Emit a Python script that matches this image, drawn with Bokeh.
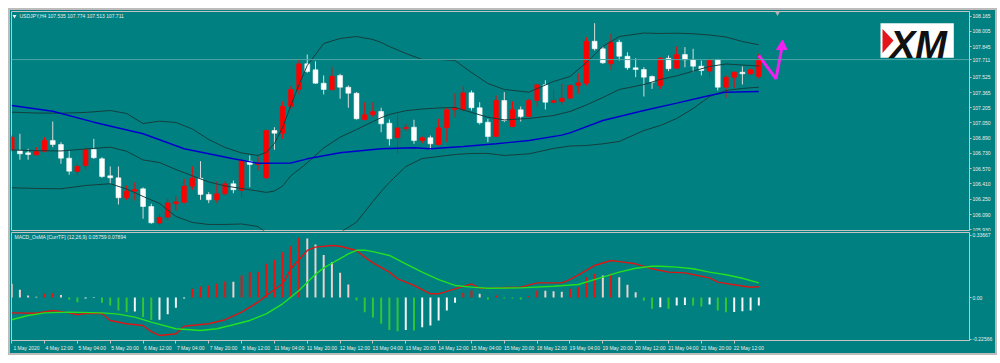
from bokeh.plotting import figure
from bokeh.layouts import column
from bokeh.models import Range1d, FixedTicker, NumeralTickFormatter, Span, Label, ColumnDataSource
from bokeh.embed import file_html
from bokeh.resources import INLINE
from bokeh.core.properties import value

# ---------------- data ----------------
symbol_title = "USDJPY,H4 107.535 107.774 107.513 107.711"
macd_title = "MACD_OsMA [CurrTF] (12,26,9) 0.05759 0.07894"
last_price = 107.711
last_price_label = "107.711"

opens = [106.767, 106.760, 106.736, 106.715, 106.753, 106.865, 106.823, 106.680, 106.540, 106.600,
         106.770, 106.673, 106.495, 106.474, 106.265, 106.334, 106.359, 106.174, 106.000, 106.062,
         106.203, 106.219, 106.387, 106.470, 106.300, 106.244, 106.307, 106.412, 106.342, 106.648,
         106.614, 106.474, 106.969, 106.941, 107.220, 107.398, 107.667, 107.604, 107.464, 107.395,
         107.545, 107.422, 107.359, 107.084, 107.133, 107.168, 107.046, 106.893, 106.987, 107.004,
         106.865, 106.893, 106.823, 106.997, 107.186, 107.186, 107.364, 107.207, 107.056, 106.906,
         107.283, 107.011, 107.186, 107.116, 107.283, 107.447, 107.262, 107.273, 107.307, 107.440,
         107.464, 107.903, 107.824, 107.667, 107.893, 107.746, 107.625, 107.607, 107.534, 107.440,
         107.725, 107.621, 107.764, 107.709, 107.642, 107.590, 107.712, 107.422, 107.527, 107.579,
         107.562, 107.535]
highs = [106.917, 106.935, 106.778, 106.795, 106.899, 107.063, 106.847, 106.760, 106.621, 106.795,
         106.882, 106.690, 106.593, 106.593, 106.394, 106.428, 106.373, 106.203, 106.104, 106.255,
         106.279, 106.464, 106.593, 106.648, 106.324, 106.439, 106.439, 106.446, 106.680, 106.708,
         106.697, 106.977, 107.004, 107.273, 107.433, 107.719, 107.764, 107.694, 107.545, 107.631,
         107.562, 107.440, 107.370, 107.265, 107.265, 107.207, 107.084, 107.137, 107.039, 107.081,
         106.906, 106.917, 107.092, 107.213, 107.359, 107.433, 107.388, 107.265, 107.092, 107.335,
         107.370, 107.273, 107.220, 107.301, 107.458, 107.495, 107.398, 107.458, 107.450, 107.569,
         107.945, 108.092, 107.848, 107.981, 107.918, 107.788, 107.725, 107.631, 107.545, 107.736,
         107.754, 107.848, 107.841, 107.824, 107.701, 107.736, 107.719, 107.545, 107.586, 107.639,
         107.615, 107.774]
lows = [106.750, 106.663, 106.663, 106.708, 106.742, 106.795, 106.621, 106.506, 106.499, 106.558,
        106.673, 106.474, 106.412, 106.195, 106.244, 106.237, 106.046, 105.993, 105.975, 106.028,
        106.132, 106.203, 106.349, 106.244, 106.209, 106.209, 106.289, 106.313, 106.272, 106.376,
        106.551, 106.464, 106.767, 106.882, 107.196, 107.346, 107.573, 107.458, 107.346, 107.388,
        107.301, 107.207, 107.084, 107.074, 107.108, 106.951, 106.812, 106.732, 106.959, 106.830,
        106.836, 106.767, 106.812, 106.847, 107.108, 107.171, 107.178, 107.032, 106.847, 106.899,
        107.056, 107.004, 107.063, 107.108, 107.220, 107.189, 107.249, 107.238, 107.301, 107.353,
        107.440, 107.806, 107.667, 107.604, 107.701, 107.604, 107.527, 107.325, 107.405, 107.405,
        107.590, 107.615, 107.631, 107.579, 107.545, 107.527, 107.388, 107.311, 107.416, 107.450,
        107.555, 107.513]
closes = [106.899, 106.725, 106.718, 106.750, 106.865, 106.823, 106.680, 106.544, 106.596, 106.770,
          106.684, 106.488, 106.474, 106.265, 106.334, 106.352, 106.174, 106.004, 106.062, 106.213,
          106.223, 106.387, 106.470, 106.300, 106.244, 106.307, 106.412, 106.349, 106.655, 106.614,
          106.631, 106.969, 106.941, 107.220, 107.398, 107.667, 107.586, 107.464, 107.398, 107.537,
          107.422, 107.359, 107.092, 107.133, 107.168, 107.039, 106.882, 106.997, 107.004, 106.865,
          106.893, 106.830, 106.997, 107.186, 107.207, 107.364, 107.207, 107.050, 106.906, 107.283,
          107.074, 107.186, 107.116, 107.283, 107.447, 107.265, 107.283, 107.307, 107.440, 107.468,
          107.903, 107.824, 107.677, 107.893, 107.746, 107.625, 107.607, 107.527, 107.474, 107.725,
          107.615, 107.764, 107.709, 107.642, 107.597, 107.712, 107.422, 107.527, 107.579, 107.562,
          107.604, 107.711]
bar_index = list(range(len(opens)))

# Bollinger bands (sampled at bar indices)
bb_idx = [0, 3, 6, 9, 12, 14, 16, 18, 20, 22, 24, 26, 28, 30, 31, 32, 33, 34, 35, 36, 38, 40, 42, 44, 45,
          46, 48, 50, 52, 54, 56, 58, 60, 63, 66, 68, 70, 72, 74, 77, 79, 81, 83, 85, 87, 89, 91]
bb_upper = [107.161, 107.152, 107.150, 107.158, 107.178, 107.147, 107.042, 107.067, 107.053, 106.985,
            106.875, 106.791, 106.734, 106.708, 106.739, 106.833, 107.001, 107.231, 107.450, 107.649,
            107.879, 107.932, 107.952, 107.921, 107.890, 107.848, 107.775, 107.712, 107.712, 107.701,
            107.576, 107.461, 107.398, 107.370, 107.482, 107.534, 107.680, 107.848, 107.952, 107.989,
            107.984, 107.987, 107.981, 107.968, 107.947, 107.900, 107.866]
bb_middle = [106.765, 106.758, 106.755, 106.776, 106.795, 106.752, 106.661, 106.634, 106.561, 106.495,
             106.431, 106.389, 106.363, 106.336, 106.321, 106.336, 106.389, 106.496, 106.562, 106.632,
             106.786, 106.899, 106.979, 107.063, 107.103, 107.137, 107.176, 107.194, 107.205, 107.210,
             107.158, 107.108, 107.080, 107.095, 107.126, 107.168, 107.236, 107.314, 107.398, 107.450,
             107.503, 107.541, 107.590, 107.639, 107.665, 107.654, 107.644]
bb_lower = [106.370, 106.363, 106.359, 106.394, 106.412, 106.357, 106.279, 106.206, 106.070, 106.007,
            105.986, 105.986, 105.991, 105.965, 105.902, 105.840, 105.777, 105.756, 105.672, 105.651,
            105.693, 105.902, 106.011, 106.227, 106.331, 106.425, 106.593, 106.676, 106.697, 106.718,
            106.729, 106.729, 106.708, 106.725, 106.781, 106.807, 106.812, 106.830, 106.854, 106.969,
            107.021, 107.095, 107.199, 107.325, 107.388, 107.409, 107.422]

# blue moving average
ma_idx = [0, 5, 10, 16, 21, 27, 30, 34, 36, 40, 45, 49, 51, 55, 59, 63, 67, 68, 72, 77, 81, 85, 87, 91]
ma_vals = [107.231, 107.171, 107.056, 106.935, 106.778, 106.673, 106.627, 106.629, 106.673, 106.736,
           106.778, 106.788, 106.778, 106.802, 106.830, 106.865, 106.921, 106.945, 107.074, 107.178,
           107.255, 107.335, 107.370, 107.377]

# MACD OsMA histogram
hist_vals = [0.074, 0.042, 0.011, 0.004, 0.020, 0.023, 0.014, -0.011, -0.025, -0.005,
             -0.003, -0.029, -0.043, -0.070, -0.080, -0.076, -0.105, -0.122, -0.120, -0.090,
             -0.055, -0.006, 0.047, 0.059, 0.065, 0.074, 0.086, 0.085, 0.119, 0.137,
             0.139, 0.182, 0.204, 0.245, 0.277, 0.322, 0.318, 0.286, 0.230, 0.191,
             0.133, 0.070, -0.016, -0.079, -0.108, -0.142, -0.175, -0.182, -0.175, -0.178,
             -0.160, -0.151, -0.124, -0.070, -0.029, 0.025, 0.038, 0.020, -0.011, 0.011,
             -0.005, -0.006, -0.011, 0.007, 0.038, 0.036, 0.034, 0.031, 0.047, 0.056,
             0.110, 0.128, 0.119, 0.128, 0.110, 0.069, 0.029, -0.018, -0.061, -0.052,
             -0.061, -0.043, -0.040, -0.043, -0.049, -0.038, -0.070, -0.079, -0.078, -0.074,
             -0.070, -0.043]
hist_kind = ("pppprrpggw" "wggggwggww" "wwrrrrrprr" "rrrrrrpppp" "ppggggggwg"
             "wwwwwrrpgr" "gggrrppprr" "rrprpppggw" "gwwggwggww" "ww")

macd_idx = [0, 3, 5, 7, 8, 9, 11, 12, 14, 16, 17, 18, 20, 21, 23, 24, 26, 28, 30, 31, 33, 34, 36, 37,
            39, 40, 42, 43, 44, 46, 47, 49, 51, 52, 54, 56, 57, 59, 62, 64, 67, 68, 70, 71, 73, 74, 76,
            78, 80, 82, 84, 85, 86, 88, 90, 91]
macd_vals = [-0.083, -0.085, -0.070, -0.083, -0.093, -0.085, -0.086, -0.124, -0.142, -0.151,
             -0.184, -0.205, -0.196, -0.155, -0.146, -0.142, -0.120, -0.079, -0.025, 0.011,
             0.074, 0.155, 0.254, 0.272, 0.281, 0.277, 0.254, 0.218, 0.187, 0.137,
             0.101, 0.065, 0.020, 0.020, 0.047, 0.074, 0.050, 0.052, 0.056, 0.079,
             0.079, 0.097, 0.146, 0.173, 0.200, 0.194, 0.182, 0.155, 0.137, 0.133,
             0.115, 0.106, 0.083, 0.069, 0.055, 0.058]
sig_idx = [0, 2, 4, 7, 11, 13, 15, 17, 20, 23, 25, 27, 29, 31, 33, 35, 37, 38, 39, 40, 41, 42, 43, 44,
           46, 48, 50, 52, 54, 56, 58, 62, 66, 69, 72, 74, 76, 78, 79, 81, 83, 85, 87, 89, 91]
sig_vals = [-0.120, -0.097, -0.083, -0.079, -0.083, -0.090, -0.106, -0.133, -0.169, -0.178,
            -0.169, -0.147, -0.124, -0.088, -0.034, 0.038, 0.125, 0.160, 0.185, 0.210,
            0.235, 0.255, 0.256, 0.248, 0.227, 0.182, 0.137, 0.097, 0.065, 0.056,
            0.050, 0.052, 0.061, 0.070, 0.110, 0.137, 0.158, 0.169, 0.169, 0.164,
            0.155, 0.137, 0.123, 0.104, 0.079]

price_ticks = [108.165, 108.005, 107.845, 107.711, 107.525, 107.365, 107.205, 107.050, 106.890,
               106.730, 106.570, 106.410, 106.250, 106.090, 105.930]
macd_ticks = [0.33667, 0.0, -0.22566]
macd_tick_labels = ["0.33667", "0.00", "-0.22566"]
time_tick_idx = [0, 4, 8, 12, 16, 20, 24, 28, 32, 36, 40, 44, 48, 52, 56, 60, 64, 68, 72, 76, 80, 84, 88]
time_tick_labels = ["1 May 2020", "4 May 12:00", "5 May 04:00", "5 May 20:00", "6 May 12:00",
                    "7 May 04:00", "7 May 20:00", "8 May 12:00", "11 May 04:00", "11 May 20:00",
                    "12 May 12:00", "13 May 04:00", "13 May 20:00", "14 May 12:00", "15 May 04:00",
                    "15 May 20:00", "18 May 12:00", "19 May 04:00", "19 May 20:00", "20 May 12:00",
                    "21 May 04:00", "21 May 20:00", "22 May 12:00"]

# ---------------- style ----------------
TEAL = "#008080"
FRAME_C = "#c4c4c4"
TXT = "#eeeeee"
RED = "#ff0000"
WHITE = "#ffffff"
WICK_W = "#dcdcdc"
BAND = "#163e3e"
BLUE = "#0000cc"
FONT = "Liberation Sans"
FS = "5px"

PX_PER_BAR = 8.21
X0 = -0.025
FW = 958
X1 = X0 + FW / PX_PER_BAR
P_TOP, P_BOT = 108.214, 105.923
M_TOP, M_BOT = 0.351, -0.2322


def jx(px):  # screen x (frame left = 11) -> bar units, for annotations only
    return X0 + (px - 11) / PX_PER_BAR


def py(pyv):  # screen y in top panel -> price, for annotations only
    return P_TOP - (pyv - 11) * (P_TOP - P_BOT) / 219


def my(pyv):  # screen y in macd panel -> value, for annotations only
    return M_TOP - (pyv - 232) * (M_TOP - M_BOT) / 108


# ---------------- top (price) panel ----------------
top = figure(frame_width=FW, frame_height=219, x_range=Range1d(X0, X1), y_range=Range1d(P_BOT, P_TOP),
             output_backend="svg", toolbar_location=None, x_axis_location=None, y_axis_location="right",
             min_border_left=1, min_border_top=1, min_border_bottom=1, min_border_right=0,
             background_fill_color=TEAL, border_fill_color=TEAL, outline_line_color=FRAME_C)
top.grid.visible = False
ya = top.yaxis[0]
ya.ticker = FixedTicker(ticks=price_ticks)
ya.formatter = NumeralTickFormatter(format="0.000")
ya.axis_line_color = FRAME_C
ya.major_tick_line_color = FRAME_C
ya.major_tick_out = 2
ya.major_tick_in = 0
ya.minor_tick_line_color = None
ya.major_label_standoff = 1
ya.major_label_text_color = TXT
ya.major_label_text_font = FONT
ya.major_label_text_font_size = FS

top.add_layout(Span(location=last_price, dimension="width", line_color="#4ea6a6", line_width=1))

bull = [c >= o for o, c in zip(opens, closes)]
src = ColumnDataSource(dict(
    x=bar_index, h=highs, l=lows,
    t=[max(o, c) for o, c in zip(opens, closes)],
    b=[min(o, c) for o, c in zip(opens, closes)],
    bc=[RED if u else WHITE for u in bull],
    wc=[RED if u else WICK_W for u in bull],
))
top.segment(x0="x", y0="l", x1="x", y1="h", line_color="wc", line_width=1, source=src)
top.vbar(x="x", top="t", bottom="b", width=0.6, fill_color="bc", line_color="bc", line_width=0.5, source=src)

top.line(bb_idx, bb_upper, line_color=BAND, line_width=1)
top.line(bb_idx, bb_middle, line_color=BAND, line_width=1)
top.line(bb_idx, bb_lower, line_color=BAND, line_width=1)
top.line(ma_idx, ma_vals, line_color=BLUE, line_width=1.4)

# forecast arrow
MAG = "#f020f0"
top.line([jx(758.3), jx(775.5), jx(781.0)], [py(55), py(78.3), py(49)], line_color=MAG, line_width=3)
top.patch([jx(776), jx(782), jx(786.5)], [py(49), py(39.5), py(49)], fill_color=MAG, line_color=MAG)

# chart-shift marker
top.scatter([jx(777)], [py(12.5)], marker="inverted_triangle", size=5, fill_color="#b0b0b0", line_color=None)

# title
top.scatter([jx(14)], [py(15.7)], marker="inverted_triangle", size=4, fill_color=TXT, line_color=None)
top.text([jx(19)], [py(15.7)], text=[symbol_title], text_color=TXT, text_font=value(FONT),
         text_font_size=FS, text_baseline="middle", text_align="left")

# XM logo
top.quad(left=[jx(880)], right=[jx(953.3)], top=[py(22.7)], bottom=[py(57.3)], fill_color="#ffffff", line_color=None)
top.patch([jx(882), jx(893), jx(882)], [py(28.5), py(40), py(52.5)], fill_color="#e4161b", line_color=None)
top.text([jx(918)], [py(44.5)], text=["XM"], text_color="#111111", text_font=value(FONT),
         text_font_size="38px", text_font_style="bold italic", text_baseline="alphabetic", text_align="center")

# current price box on the axis
top.add_layout(Label(x=X1, y=last_price, x_offset=1, text=last_price_label, text_font=FONT, text_font_size=FS,
                     text_color="#708080", text_baseline="middle", text_align="left",
                     background_fill_color="#f4f4f4"))

# ---------------- bottom (MACD) panel ----------------
bot = figure(frame_width=FW, frame_height=108, x_range=top.x_range, y_range=Range1d(M_BOT, M_TOP),
             output_backend="svg", toolbar_location=None, y_axis_location="right",
             min_border_left=1, min_border_top=1, min_border_bottom=0, min_border_right=0,
             background_fill_color=TEAL, border_fill_color=TEAL, outline_line_color=FRAME_C)
bot.grid.visible = False

kind_color = {"r": "#e81414", "p": "#f2cfcf", "g": "#34c434", "w": "#f6f6f6"}
hsrc = ColumnDataSource(dict(x=bar_index, top=hist_vals, c=[kind_color[k] for k in hist_kind]))
bot.vbar(x="x", top="top", bottom=0, width=0.24, fill_color="c", line_color=None, source=hsrc)
bot.line(macd_idx, macd_vals, line_color="#dd1515", line_width=1.4)
bot.line(sig_idx, sig_vals, line_color="#22e022", line_width=1.4)

bot.text([jx(14)], [my(236)], text=[macd_title], text_color=TXT, text_font=value(FONT),
         text_font_size=FS, text_baseline="middle", text_align="left")

yb = bot.yaxis[0]
yb.ticker = FixedTicker(ticks=macd_ticks)
yb.major_label_overrides = {t: s for t, s in zip(macd_ticks, macd_tick_labels)}
yb.axis_line_color = FRAME_C
yb.major_tick_line_color = FRAME_C
yb.major_tick_out = 2
yb.major_tick_in = 0
yb.minor_tick_line_color = None
yb.major_label_standoff = 1
yb.major_label_text_color = TXT
yb.major_label_text_font = FONT
yb.major_label_text_font_size = FS

LABEL_SHIFT = 1.8  # labels sit to the right of their tick, as in the terminal
label_pos = [t + LABEL_SHIFT for t in time_tick_idx]
xb = bot.xaxis[0]
xb.ticker = FixedTicker(ticks=label_pos, minor_ticks=time_tick_idx)
xb.major_label_overrides = {p: s for p, s in zip(label_pos, time_tick_labels)}
xb.axis_line_color = FRAME_C
xb.major_tick_out = 0
xb.major_tick_in = 0
xb.major_tick_line_color = None
xb.minor_tick_line_color = FRAME_C
xb.minor_tick_out = 3
xb.minor_tick_in = 0
xb.major_label_standoff = 1
xb.major_label_text_color = TXT
xb.major_label_text_font = FONT
xb.major_label_text_font_size = FS

layout = column(top, bot, spacing=0,
                styles={"border": "2px solid #bcbcbc", "background-color": TEAL,
                        "margin-left": "8px", "margin-top": "8px"})

open("out.html", "w").write(file_html(layout, INLINE))
